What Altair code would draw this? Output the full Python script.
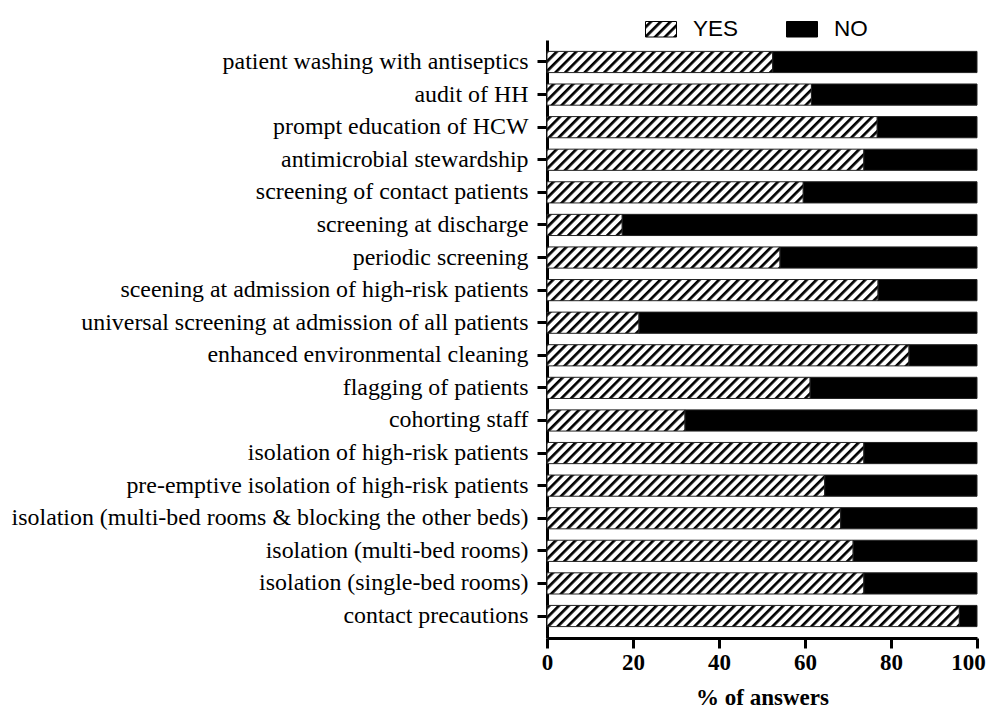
import altair as alt
import pandas as pd

# ---------------- data ----------------
categories = [
    "patient washing with antiseptics",
    "audit of HH",
    "prompt education of HCW",
    "antimicrobial stewardship",
    "screening of contact patients",
    "screening at discharge",
    "periodic screening",
    "sceening at admission of high-risk patients",
    "universal screening at admission of all patients",
    "enhanced environmental cleaning",
    "flagging of patients",
    "cohorting staff",
    "isolation of high-risk patients",
    "pre-emptive isolation of high-risk patients",
    "isolation (multi-bed rooms & blocking the other beds)",
    "isolation (multi-bed rooms)",
    "isolation (single-bed rooms)",
    "contact precautions",
]
yes_pct = [52.5, 61.5, 76.8, 73.7, 59.6, 17.5, 54.2, 77.0, 21.4,
           84.2, 61.2, 32.1, 73.7, 64.6, 68.3, 71.2, 73.7, 95.9]
no_pct = [47.5, 38.5, 23.2, 26.3, 40.4, 82.5, 45.8, 23.0, 78.6,
          15.8, 38.8, 67.9, 26.3, 35.4, 31.7, 28.8, 26.3, 4.1]
answers = ["YES", "NO"]
x_ticks = [0, 20, 40, 60, 80, 100]

rows = []
for c, y, n in zip(categories, yes_pct, no_pct):
    rows.append({"category": c, "answer": "YES", "pct": y, "k": 0})
    rows.append({"category": c, "answer": "NO", "pct": n, "k": 1})
df = pd.DataFrame(rows)

# ---------------- hatch pattern (SVG def referenced by fill url) ----------------
HATCH_DEFS = (
    '<svg width="0" height="0" aria-hidden="true" '
    'style="position:absolute;width:0;height:0;overflow:hidden">'
    '<defs><pattern id="hatch" patternUnits="userSpaceOnUse" width="6.9" height="6.9" '
    'patternTransform="rotate(45)">'
    '<rect width="6.9" height="6.9" fill="white"/>'
    '<rect x="0" y="0" width="2.7" height="6.9" fill="black"/>'
    '</pattern></defs></svg>'
)

try:
    import altair.utils.html as _ah
    _orig_tpl = _ah.TEMPLATES["standard"]

    class _HatchTemplate:
        def render(self, **kw):
            html = _orig_tpl.render(**kw)
            i = html.find("<body>")
            if i >= 0:
                i += len("<body>")
            else:
                i = html.find("<div id=")
                if i < 0:
                    i = 0
            return html[:i] + HATCH_DEFS + html[i:]

    _ah.TEMPLATES["standard"] = _HatchTemplate()
except Exception:
    _ah = None
    _orig_tpl = None

SERIF = "Liberation Serif"
SANS = "Liberation Sans"

chart = (
    alt.Chart(df)
    .mark_bar(stroke="#222222", strokeWidth=1)
    .encode(
        x=alt.X(
            "pct:Q",
            stack="zero",
            scale=alt.Scale(domain=[0, 100], nice=False),
            axis=alt.Axis(
                values=x_ticks,
                title="% of answers",
                titleFont=SERIF,
                titleFontSize=23,
                titleFontWeight="bold",
                titleColor="black",
                titlePadding=12,
                labelFont=SERIF,
                labelFontSize=23,
                labelFontWeight="bold",
                labelColor="black",
                labelPadding=3,
                labelFlush=False,
                labelOffset={"condition": {"test": "datum.value >= 100", "value": -9}, "value": 0},
                domainColor="black",
                domainWidth=3,
                tickColor="black",
                tickWidth=3,
                tickSize=10,
                grid=False,
            ),
        ),
        y=alt.Y(
            "category:N",
            sort=categories,
            scale=alt.Scale(paddingInner=0.35, paddingOuter=0.35),
            axis=alt.Axis(
                title=None,
                labelFont=SERIF,
                labelFontSize=23.9,
                labelColor="black",
                labelPadding=9,
                labelLimit=1000,
                domainColor="black",
                domainWidth=3,
                tickColor="black",
                tickWidth=3,
                tickSize=10,
                grid=False,
            ),
        ),
        color=alt.Color(
            "answer:N",
            scale=alt.Scale(domain=answers, range=["url(#hatch) #999999", "black"]),
            legend=alt.Legend(
                title=None,
                orient="none",
                legendX=98,
                legendY=-27,
                direction="horizontal",
                symbolType="M-1,-0.5H1V0.5H-1Z",
                symbolSize=961,
                symbolStrokeColor="black",
                symbolStrokeWidth=1,
                labelFont=SANS,
                labelFontSize=22.5,
                labelColor="black",
                labelOffset=16,
                columnPadding=45,
            ),
        ),
        order=alt.Order("k:Q"),
    )
    .properties(
        width=430,
        height=598,
        autosize=alt.AutoSizeParams(type="none"),
        padding={"left": 539, "top": 32, "right": 10, "bottom": 70},
        background="white",
    )
    .configure_view(stroke=None)
)

try:
    chart.save("out.html", embed_options={"renderer": "svg", "actions": False})
except Exception:
    if _ah is not None and _orig_tpl is not None:
        _ah.TEMPLATES["standard"] = _orig_tpl
    chart.save("out.html", embed_options={"renderer": "svg", "actions": False})
